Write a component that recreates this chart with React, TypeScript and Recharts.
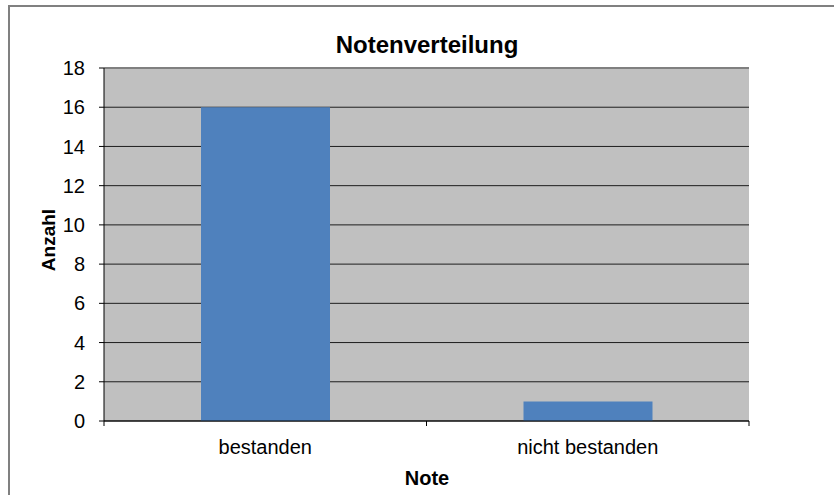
import React from 'react';
import { BarChart, Bar, XAxis, YAxis, CartesianGrid, ReferenceLine } from 'recharts';

const categories = ['bestanden', 'nicht bestanden'];
const counts = [16, 1];
const yTicks = [0, 2, 4, 6, 8, 10, 12, 14, 16, 18];
const chartTitle = 'Notenverteilung';
const xTitle = 'Note';
const yTitle = 'Anzahl';

const data = categories.map((c, i) => ({ name: c, value: counts[i] }));

const FONT = '"Liberation Sans", Arial, sans-serif';
const TICK_MARGIN = 19;
const PLOT_WIDTH = 645;

function CategoryTick(props: any) {
  const { x, y, payload, index } = props;
  const half =
    payload && typeof payload.offset === 'number' && payload.offset > 0
      ? payload.offset
      : PLOT_WIDTH / categories.length / 2;
  const top = y - TICK_MARGIN;
  return (
    <g>
      {index === 0 && <line x1={x - half} x2={x - half} y1={top} y2={top + 5} stroke="#000" />}
      <line x1={x + half} x2={x + half} y1={top} y2={top + 5} stroke="#000" />
      <text x={x} y={y} dy="0.71em" textAnchor="middle" fontSize={20} fontFamily={FONT} fill="#000">
        {payload.value}
      </text>
    </g>
  );
}

export default function App() {
  return (
    <div style={{ position: 'absolute', left: 0, top: 0, width: 834, height: 495, fontFamily: FONT }}>
      <div
        style={{
          position: 'absolute',
          left: 8,
          top: 5,
          width: 824,
          height: 488,
          borderLeft: '2px solid #808080',
          borderTop: '2px solid #808080',
        }}
      />
      <div style={{ position: 'absolute', left: 0, top: 0 }}>
        <BarChart
          width={834}
          height={495}
          data={data}
          margin={{ top: 68, right: 85, bottom: 24, left: 44 }}
          style={{ fontFamily: FONT }}
        >
          <CartesianGrid vertical={false} stroke="#000" fill="#C0C0C0" strokeOpacity={0.85} />
          <XAxis
            dataKey="name"
            height={50}
            tickLine={false}
            tickSize={0}
            tickMargin={TICK_MARGIN}
            axisLine={{ stroke: '#000' }}
            tick={<CategoryTick />}
            interval={0}
          />
          <YAxis
            domain={[0, 18]}
            ticks={yTicks}
            width={60}
            tickSize={5}
            tickMargin={14}
            tickLine={{ stroke: '#000' }}
            axisLine={{ stroke: '#000' }}
            tick={{ fill: '#000', fontSize: 20, fontFamily: FONT }}
            interval={0}
          />
          <YAxis
            yAxisId="r"
            orientation="right"
            domain={[0, 18]}
            width={0}
            tick={false}
            tickLine={false}
            axisLine={{ stroke: '#808080', strokeWidth: 2 }}
          />
          <ReferenceLine y={18} stroke="#808080" strokeWidth={2} />
          <Bar dataKey="value" fill="#4F81BD" barSize={129} isAnimationActive={false} />
        </BarChart>
      </div>
      <svg
        width={834}
        height={495}
        style={{ position: 'absolute', left: 0, top: 0, pointerEvents: 'none' }}
      >
        <text x={427} y={53} textAnchor="middle" fontSize={24} fontWeight="bold" fontFamily={FONT} fill="#000">
          {chartTitle}
        </text>
        <text x={427} y={485} textAnchor="middle" fontSize={20} fontWeight="bold" fontFamily={FONT} fill="#000">
          {xTitle}
        </text>
        <text
          x={0}
          y={0}
          transform="translate(55,240) rotate(-90)"
          textAnchor="middle"
          fontSize={19}
          fontWeight="bold"
          fontFamily={FONT}
          fill="#000"
        >
          {yTitle}
        </text>
      </svg>
    </div>
  );
}
